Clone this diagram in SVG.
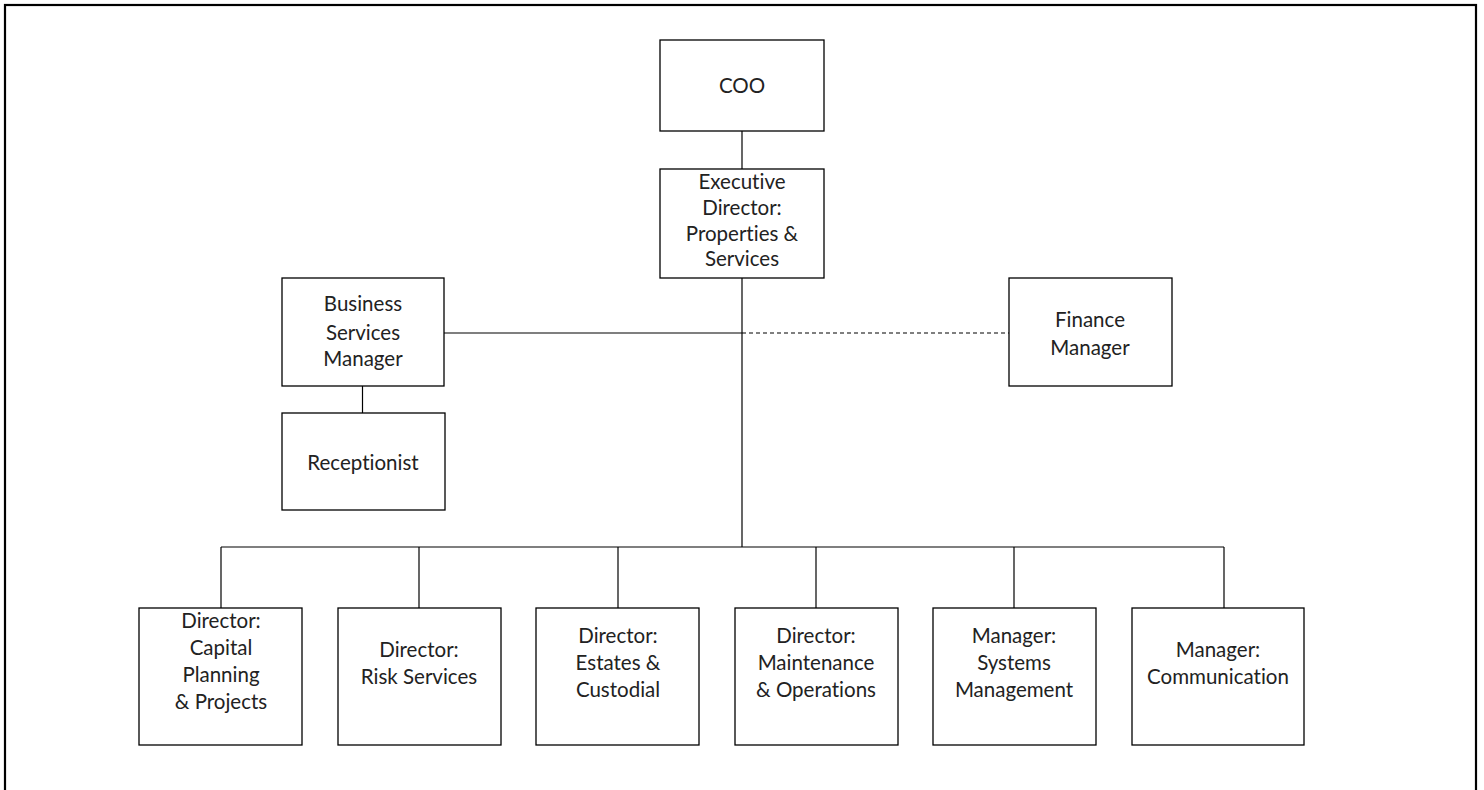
<svg xmlns="http://www.w3.org/2000/svg" width="1484" height="790" viewBox="0 0 1484 790">
<style>
.box{fill:#fff;stroke:#000;stroke-width:1.3}
.ln{fill:none;stroke:#000;stroke-width:1.2}
.dash{fill:none;stroke:#000;stroke-width:1.2;stroke-dasharray:4 3}
text{font-family:Lato,"Open Sans",sans-serif;font-size:20.5px;fill:#222;text-anchor:middle;font-variant-ligatures:none}
</style>
<rect x="0" y="0" width="1484" height="790" fill="#fff"/>
<rect x="5" y="5" width="1471" height="820" fill="none" stroke="#000" stroke-width="2.2"/>
<g id="connectors">
<line class="ln" x1="742" y1="131" x2="742" y2="169"/>
<line class="ln" x1="742" y1="278" x2="742" y2="547"/>
<line class="ln" x1="444" y1="333" x2="742" y2="333"/>
<line class="dash" x1="742" y1="333" x2="1009" y2="333"/>
<line class="ln" x1="362.5" y1="386" x2="362.5" y2="413"/>
<line class="ln" x1="221" y1="547" x2="1224" y2="547"/>
<line class="ln" x1="221" y1="547" x2="221" y2="608"/>
<line class="ln" x1="419" y1="547" x2="419" y2="608"/>
<line class="ln" x1="618" y1="547" x2="618" y2="608"/>
<line class="ln" x1="816" y1="547" x2="816" y2="608"/>
<line class="ln" x1="1014" y1="547" x2="1014" y2="608"/>
<line class="ln" x1="1224" y1="547" x2="1224" y2="608"/>
</g>
<g id="coo"><rect class="box" x="660" y="40" width="164" height="91"/><text x="742" y="93">COO</text></g>
<g id="ed"><rect class="box" x="660" y="169" width="164" height="109"/>
<text x="742" y="189">Executive</text><text x="742" y="215">Director:</text><text x="742" y="241">Properties &amp;</text><text x="742" y="266">Services</text></g>
<g id="bsm"><rect class="box" x="282" y="278" width="162" height="108"/>
<text x="363" y="311">Business</text><text x="363" y="340">Services</text><text x="363" y="366">Manager</text></g>
<g id="receptionist"><rect class="box" x="282" y="413" width="163" height="97"/><text x="363" y="470">Receptionist</text></g>
<g id="finance"><rect class="box" x="1009" y="278" width="163" height="108"/>
<text x="1090" y="327">Finance</text><text x="1090" y="355">Manager</text></g>
<g id="d1"><rect class="box" x="139" y="608" width="163" height="137"/>
<text x="221" y="628">Director:</text><text x="221" y="655">Capital</text><text x="221" y="682">Planning</text><text x="221" y="709">&amp; Projects</text></g>
<g id="d2"><rect class="box" x="338" y="608" width="163" height="137"/>
<text x="419" y="657">Director:</text><text x="419" y="684">Risk Services</text></g>
<g id="d3"><rect class="box" x="536" y="608" width="163" height="137"/>
<text x="618" y="643">Director:</text><text x="618" y="670">Estates &amp;</text><text x="618" y="697">Custodial</text></g>
<g id="d4"><rect class="box" x="735" y="608" width="163" height="137"/>
<text x="816" y="643">Director:</text><text x="816" y="670">Maintenance</text><text x="816" y="697">&amp; Operations</text></g>
<g id="m5"><rect class="box" x="933" y="608" width="163" height="137"/>
<text x="1014" y="643">Manager:</text><text x="1014" y="670">Systems</text><text x="1014" y="697">Management</text></g>
<g id="m6"><rect class="box" x="1132" y="608" width="172" height="137"/>
<text x="1218" y="657">Manager:</text><text x="1218" y="684">Communication</text></g>
</svg>
